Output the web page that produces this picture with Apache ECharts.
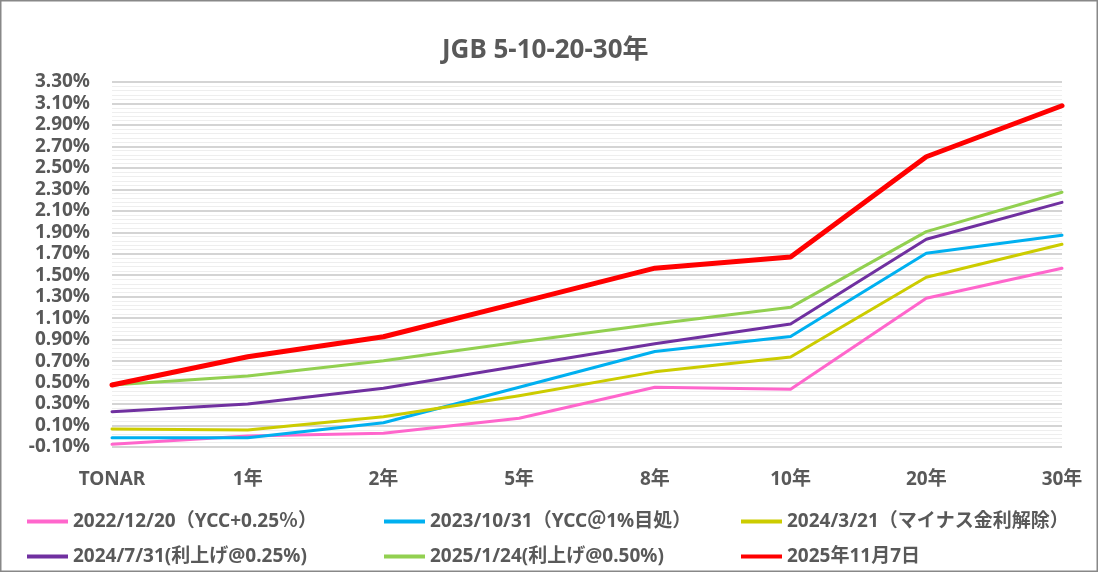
<!DOCTYPE html>
<html>
<head>
<meta charset="utf-8">
<script src="https://cdn.jsdelivr.net/npm/echarts@6/dist/echarts.min.js"></script>
<style>
html,body{margin:0;padding:0;background:#fff;}
#c{width:1098px;height:572px;}
</style>
</head>
<body>
<div id="c"></div>
<script>
const categories = ['TONAR', '1年', '2年', '5年', '8年', '10年', '20年', '30年'];
const seriesNames = [
  '2022/12/20（YCC+0.25％）',
  '2023/10/31（YCC＠1%目処）',
  '2024/3/21（マイナス金利解除）',
  '2024/7/31(利上げ@0.25%)',
  '2025/1/24(利上げ@0.50%)',
  '2025年11月7日'
];
const s2022_12_20 = [-0.075, 0.002, 0.028, 0.167, 0.456, 0.437, 1.285, 1.565];
const s2023_10_31 = [-0.013, -0.013, 0.126, 0.456, 0.790, 0.930, 1.704, 1.872];
const s2024_03_21 = [0.068, 0.058, 0.182, 0.378, 0.600, 0.738, 1.481, 1.788];
const s2024_07_31 = [0.229, 0.300, 0.447, 0.655, 0.862, 1.045, 1.835, 2.179];
const s2025_01_24 = [0.478, 0.561, 0.704, 0.878, 1.046, 1.201, 1.906, 2.273];
const s2025_11_07 = [0.478, 0.741, 0.927, 1.245, 1.566, 1.670, 2.604, 3.079];
const yMin = -0.1, yMax = 3.3, yStep = 0.2;

const colors = ['#FF66CC', '#00B0F0', '#CCCC00', '#7030A0', '#92D050', '#FF0000'];
const widths = [3, 3, 3, 3, 3, 5];
const dataSets = [s2022_12_20, s2023_10_31, s2024_03_21, s2024_07_31, s2025_01_24, s2025_11_07];

const FONT = '"Noto Sans", "Noto Sans CJK JP", sans-serif';
const TXT = '#595959';

const chart = echarts.init(document.getElementById('c'));
const legendBase = {
  orient: 'vertical', top: 506, itemGap: 14, icon: 'rect', itemWidth: 41, itemHeight: 4,
  textStyle: {color: TXT, fontSize: 19, fontWeight: 'bold', fontFamily: FONT, lineHeight: 21},
  selectedMode: false
};
chart.setOption({
  animation: false,
  backgroundColor: '#fff',
  color: colors,
  title: {
    text: 'JGB 5-10-20-30年', left: 437, top: 33,
    textStyle: {color: TXT, fontSize: 26, fontWeight: 'bold', fontFamily: FONT}
  },
  legend: [
    Object.assign({}, legendBase, {left: 22, data: [seriesNames[0], seriesNames[3]]}),
    Object.assign({}, legendBase, {left: 379, data: [seriesNames[1], seriesNames[4]]}),
    Object.assign({}, legendBase, {left: 736, data: [seriesNames[2], seriesNames[5]]})
  ],
  grid: {left: 112, right: 36, top: 82, bottom: 125, containLabel: false},
  xAxis: {
    type: 'category', data: categories, boundaryGap: false,
    axisLine: {show: false}, axisTick: {show: false},
    axisLabel: {color: TXT, fontSize: 19, fontWeight: 'bold', fontFamily: FONT, margin: 23},
    splitLine: {show: false}
  },
  yAxis: {
    type: 'value', min: yMin, max: yMax, interval: yStep,
    axisLine: {show: false}, axisTick: {show: false},
    axisLabel: {color: TXT, fontSize: 19, fontWeight: 'bold', fontFamily: FONT, margin: 22,
      formatter: v => v.toFixed(2) + '%'},
    splitLine: {show: true, lineStyle: {color: '#d4d4d4', width: 2}},
    minorTick: {show: false, splitNumber: 5},
    minorSplitLine: {show: true, lineStyle: {color: '#eeeeee', width: 1}}
  },
  graphic: [{
    type: 'rect', shape: {x: 0.75, y: 0.75, width: 1096.5, height: 570.5},
    style: {fill: 'none', stroke: '#888888', lineWidth: 1.5}, silent: true, z: 100
  }],
  series: dataSets.map((d, i) => ({
    name: seriesNames[i], type: 'line', data: d, showSymbol: false, symbol: 'none',
    lineStyle: {color: colors[i], width: widths[i], cap: 'round', join: 'round'},
    itemStyle: {color: colors[i]}, z: 2 + i
  }))
});
</script>
</body>
</html>
